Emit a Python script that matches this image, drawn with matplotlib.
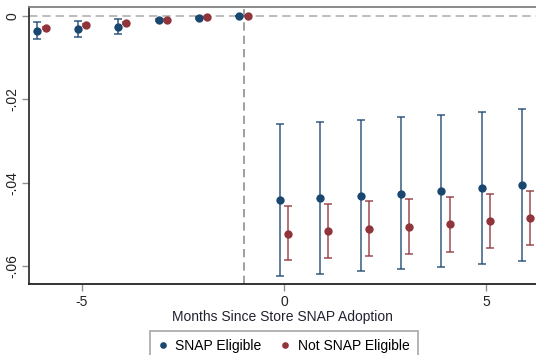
import matplotlib
matplotlib.use("Agg")
import matplotlib.pyplot as plt

plt.rcParams['font.family'] = ['Liberation Sans', 'DejaVu Sans']

months = [-6, -5, -4, -3, -2, -1, 0, 1, 2, 3, 4, 5, 6]

# SNAP eligible products: point estimates and 95% CI bounds
elig = [-0.0035, -0.0031, -0.0026, -0.0010, -0.0004, 0.0,
        -0.0442, -0.0436, -0.0431, -0.0426, -0.0420, -0.0412, -0.0406]
elig_lo = [-0.0054, -0.0050, -0.0044, -0.0012, -0.0006, 0.0,
           -0.0623, -0.0618, -0.0612, -0.0607, -0.0602, -0.0594, -0.0588]
elig_hi = [-0.0015, -0.0011, -0.0006, -0.0008, -0.0002, 0.0,
           -0.0260, -0.0255, -0.0249, -0.0243, -0.0238, -0.0230, -0.0224]

# Not SNAP eligible products
nelig = [-0.0028, -0.0022, -0.0017, -0.0010, -0.0003, 0.0,
         -0.0522, -0.0516, -0.0510, -0.0506, -0.0500, -0.0492, -0.0485]
nelig_lo = [-0.0030, -0.0024, -0.0019, -0.0012, -0.0005, 0.0,
            -0.0586, -0.0580, -0.0576, -0.0571, -0.0566, -0.0557, -0.0550]
nelig_hi = [-0.0026, -0.0020, -0.0015, -0.0008, -0.0001, 0.0,
            -0.0456, -0.0451, -0.0444, -0.0440, -0.0434, -0.0426, -0.0419]

yticks = [0, -0.02, -0.04, -0.06]
ytick_labels = ['0', '-.02', '-.04', '-.06']
xticks = [-5, 0, 5]

navy = '#1a476f'
maroon = '#90353b'

fig = plt.figure(figsize=(5.36, 3.55), dpi=100)
ax = fig.add_axes([29 / 536, 71 / 355, 1 - 29 / 536, 277 / 355])

ax.axhline(0, color='#b0b0b0', lw=1.2, ls=(0, (5, 3)), zorder=1)
ax.axvline(-1, color='#909090', lw=1.2, ls=(0, (5, 3)), zorder=1)

def series(offset, y, lo, hi, color, label):
    x = [m + offset for m in months]
    err = [[v - l for v, l in zip(y, lo)], [h - v for v, h in zip(y, hi)]]
    ax.errorbar(x, y, yerr=err, fmt='none', ecolor=color, alpha=0.75,
                elinewidth=1.3, capsize=3, capthick=1.3, zorder=2)
    ax.plot(x, y, 'o', color=color, ms=6, mew=0, zorder=3, label=label)

series(-0.1, elig, elig_lo, elig_hi, navy, 'SNAP Eligible')
series(0.1, nelig, nelig_lo, nelig_hi, maroon, 'Not SNAP Eligible')

ax.set_xlim(-6.31, 6.24)
ax.set_ylim(-0.0643, 0.0022)
ax.set_xticks(xticks)
ax.set_xticklabels([str(t) for t in xticks])
ax.set_yticks(yticks)
ax.set_yticklabels(ytick_labels, rotation=90, va='center')
ax.tick_params(axis='both', length=5, width=1, color='#909090',
               labelsize=10, labelcolor='#222222')
ax.tick_params(axis='x', pad=3)
ax.tick_params(axis='y', pad=2)

ax.spines['right'].set_visible(False)
ax.spines['top'].set_color('#808080')
ax.spines['left'].set_color('#333333')
ax.spines['bottom'].set_color('#222222')
for s in ax.spines.values():
    s.set_linewidth(1.3)

ax.set_xlabel('Months Since Store SNAP Adoption', fontsize=10,
              color='#222233', labelpad=1)

leg = fig.legend(loc='upper center', bbox_to_anchor=(284 / 536, 24 / 355),
                 ncol=2, frameon=True, fancybox=False, fontsize=10,
                 handlelength=0.6, handletextpad=0.6, columnspacing=1.4,
                 markerscale=0.8, borderpad=0.6, borderaxespad=0)
leg.get_frame().set_edgecolor('#909090')
leg.get_frame().set_linewidth(1.2)

fig.savefig('out.png', dpi=100)
